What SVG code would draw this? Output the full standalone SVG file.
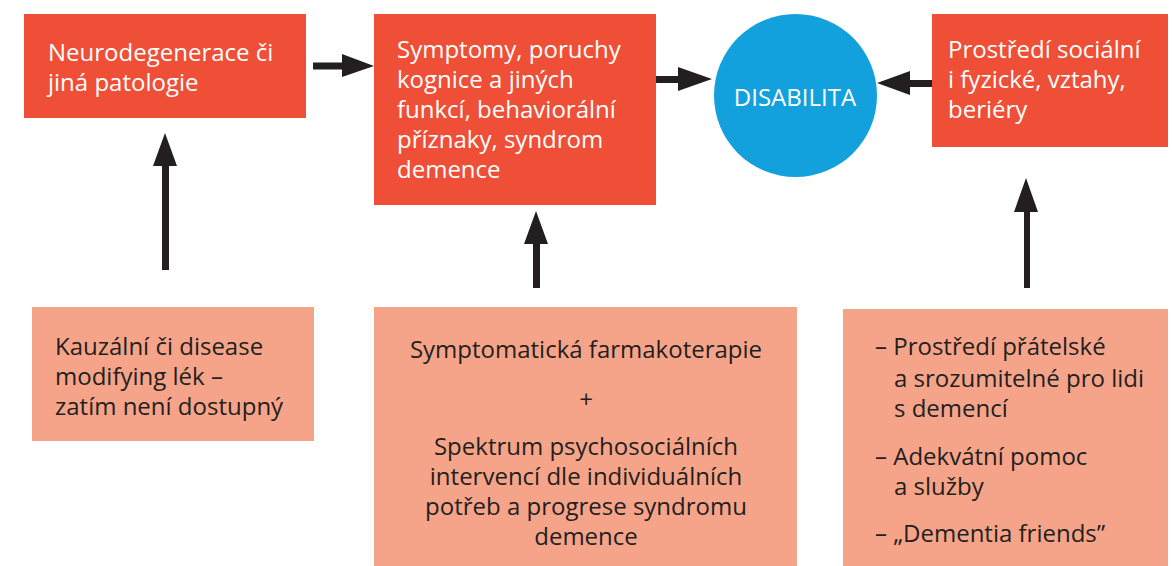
<svg xmlns="http://www.w3.org/2000/svg" width="1172" height="566" viewBox="0 0 1172 566">
<style>
.top{fill:#EF4F37}
.bot{fill:#F6A489}
.wt{fill:#FFFFFF;font-family:"Open Sans",sans-serif;font-size:24px}
.dk{fill:#231F20;font-family:"Open Sans",sans-serif;font-size:24px}
.arr{fill:#231F20}
</style>
<rect width="1172" height="566" fill="#FFFFFF"/>
<g id="n1">
<rect class="top" x="24" y="14" width="282" height="104"/>
<text class="wt" x="48" y="61">Neurodegenerace či</text>
<text class="wt" x="48" y="91">jiná patologie</text>
</g>
<g id="n2">
<rect class="top" x="374" y="14" width="282" height="191"/>
<text class="wt" x="397" y="58">Symptomy, poruchy</text>
<text class="wt" x="397" y="88">kognice a jiných</text>
<text class="wt" x="397" y="118">funkcí, behaviorální</text>
<text class="wt" x="397" y="148">příznaky, syndrom</text>
<text class="wt" x="397" y="178">demence</text>
</g>
<g id="n3">
<circle cx="795.5" cy="95.5" r="81.5" fill="#12A1DC"/>
<text class="wt" x="795" y="106" text-anchor="middle">DISABILITA</text>
</g>
<g id="n4">
<rect class="top" x="932" y="14" width="236" height="133"/>
<text class="wt" x="948" y="58">Prostředí sociální</text>
<text class="wt" x="948" y="88">i fyzické, vztahy,</text>
<text class="wt" x="948" y="118">beriéry</text>
</g>
<g id="n5">
<rect class="bot" x="32" y="307" width="282" height="134"/>
<text class="dk" x="55" y="355">Kauzální či disease</text>
<text class="dk" x="55" y="385">modifying lék –</text>
<text class="dk" x="55" y="415">zatím není dostupný</text>
</g>
<g id="n6">
<rect class="bot" x="374" y="307" width="423" height="259"/>
<g text-anchor="middle">
<text class="dk" x="586" y="358">Symptomatická farmakoterapie</text>
<text class="dk" x="586" y="408">+</text>
<text class="dk" x="586" y="455">Spektrum psychosociálních</text>
<text class="dk" x="586" y="485">intervencí dle individuálních</text>
<text class="dk" x="586" y="515">potřeb a progrese syndromu</text>
<text class="dk" x="586" y="545">demence</text>
</g>
</g>
<g id="n7">
<rect class="bot" x="843" y="309" width="325" height="257"/>
<text class="dk" x="875" y="355">– Prostředí přátelské</text>
<text class="dk" x="894" y="387">a srozumitelné pro lidi</text>
<text class="dk" x="894" y="417">s demencí</text>
<text class="dk" x="875" y="465">– Adekvátní pomoc</text>
<text class="dk" x="894" y="495">a služby</text>
<text class="dk" x="875" y="542">– „Dementia friends”</text>
</g>
<g id="connectors">
<polygon class="arr" points="313,62.5 342,62.5 342,54 374,66 342,77 342,69.5 313,69.5"/>
<polygon class="arr" points="656,76 678,76 678,67 712,79 678,91 678,83 656,83"/>
<polygon class="arr" points="932,80 910,80 910,71 877,83 910,95 910,87 932,87"/>
<polygon class="arr" points="162,270 162,166 153,166 165,133 177,166 169,166 169,270"/>
<polygon class="arr" points="533,288 533,244 524,244 536,211 548,244 540,244 540,288"/>
<polygon class="arr" points="1024,288 1024,212 1014,212 1026,178 1038,212 1030,212 1030,288"/>
</g>
</svg>
